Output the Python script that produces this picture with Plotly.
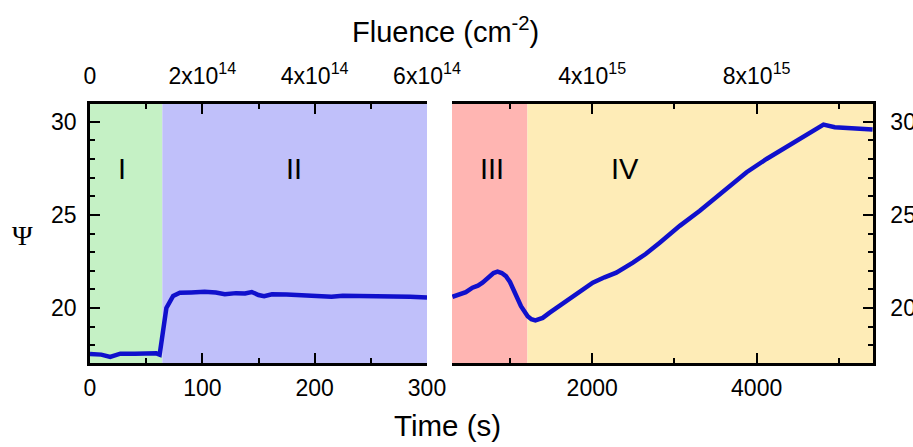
import plotly.graph_objects as go

# ---------------- data ----------------
left_time = [0, 10, 18, 27, 40, 50, 59, 62, 68, 74, 80, 90, 102, 112, 120, 130, 138, 144, 150, 155,
             162, 175, 190, 200, 215, 225, 240, 255, 270, 285, 300]
left_psi = [17.53, 17.5, 17.38, 17.55, 17.55, 17.57, 17.57, 17.5, 20.0, 20.65, 20.82, 20.84, 20.87, 20.83,
            20.74, 20.8, 20.78, 20.86, 20.7, 20.64, 20.74, 20.72, 20.68, 20.7, 20.6, 20.66, 20.66, 20.62,
            20.62, 20.6, 20.57]

right_time = [300, 380, 463, 544, 610, 666, 748, 800, 849, 900, 951, 1000, 1032, 1073, 1134, 1215, 1260,
              1309, 1350, 1398, 1479, 1600, 1723, 1860, 2007, 2150, 2293, 2495, 2650, 2821, 3065, 3309,
              3600, 3878, 4120, 4366, 4600, 4813, 4950, 5098, 5250, 5410]
right_psi = [20.60, 20.70, 20.85, 21.09, 21.2, 21.36, 21.71, 21.88, 21.95, 21.88, 21.71, 21.4, 21.09, 20.64,
             20.1, 19.56, 19.4, 19.34, 19.38, 19.47, 19.74, 20.1, 20.46, 20.9, 21.36, 21.65, 21.9, 22.44,
             22.9, 23.51, 24.41, 25.22, 26.25, 27.29, 28.0, 28.64, 29.25, 29.84, 29.7, 29.66, 29.62, 29.58]

fluence_per_second = 2e12

left_range = [0, 300]
right_range = [295, 5415]
y_range = [17.05, 30.95]

bottom_left_ticks = [0, 100, 200, 300]
bottom_left_minor = [50, 150, 250]
bottom_right_ticks = [2000, 4000]
bottom_right_minor = [1000, 3000, 5000]

top_left_ticks = [0, 2e14, 4e14, 6e14]
top_left_text = ["0", "2x10<sup>14</sup>", "4x10<sup>14</sup>", "6x10<sup>14</sup>"]
top_left_minor = [1e14, 3e14, 5e14]
top_right_ticks = [4e15, 8e15]
top_right_text = ["4x10<sup>15</sup>", "8x10<sup>15</sup>"]
top_right_minor = [2e15, 6e15, 1e16]

y_ticks = [20, 25, 30]

region_names = ["I", "II", "III", "IV"]
region_panel = ["x", "x", "x2", "x2"]
region_start = [0, 64.4, 295, 1212]
region_end = [64.4, 300, 1212, 5415]
region_colors = ["#c5f1c5", "#c0c0fa", "#ffb5b2", "#feecb7"]
label_time = [28.5, 182, 778, 2394]
label_psi = [27.45, 27.45, 27.45, 27.45]

# ---------------- figure ----------------
FONT = "Liberation Sans, Arial, sans-serif"
LINE = "#1010cc"

fig = go.Figure()
fig.add_trace(go.Scatter(x=left_time, y=left_psi, mode="lines", xaxis="x", yaxis="y",
                         line=dict(color=LINE, width=4.5), showlegend=False, hoverinfo="skip"))
fig.add_trace(go.Scatter(x=right_time, y=right_psi, mode="lines", xaxis="x2", yaxis="y2",
                         line=dict(color=LINE, width=4.5), showlegend=False, hoverinfo="skip"))
# invisible traces to carry top axes
fig.add_trace(go.Scatter(x=[v * fluence_per_second for v in left_range], y=y_range, mode="markers",
                         xaxis="x3", yaxis="y", marker=dict(opacity=0), showlegend=False, hoverinfo="skip"))
fig.add_trace(go.Scatter(x=[v * fluence_per_second for v in right_range], y=y_range, mode="markers",
                         xaxis="x4", yaxis="y2", marker=dict(opacity=0), showlegend=False, hoverinfo="skip"))

shapes = []
for p, x0, x1, c in zip(region_panel, region_start, region_end, region_colors):
    yref = "y domain" if p == "x" else "y2 domain"
    shapes.append(dict(type="rect", xref=p, yref=yref, x0=x0, x1=x1, y0=0, y1=1,
                       fillcolor=c, line=dict(width=0), layer="below"))

annotations = []
for name, p, tx, ty in zip(region_names, region_panel, label_time, label_psi):
    annotations.append(dict(text=name, x=tx, y=ty, xref=p, yref="y" if p == "x" else "y2",
                            xanchor="center", yanchor="middle",
                            showarrow=False, font=dict(family=FONT, size=29, color="black")))
annotations.append(dict(text="Fluence (cm<sup>-2</sup>)", x=445, y=30, xref="paper", yref="paper",
                        showarrow=False, font=dict(family=FONT, size=29, color="black")))
annotations.append(dict(text="Time (s)", x=447, y=425, xref="paper", yref="paper",
                        showarrow=False, font=dict(family=FONT, size=29.5, color="black")))
annotations.append(dict(text="Ψ", x=22, y=235, xref="paper", yref="paper",
                        showarrow=False, font=dict(family="Liberation Serif, Times New Roman, serif",
                                                    size=28, color="black")))

W, H = 913, 447
ML, MR, MT, MB = 90, 40, 104, 84
pw, ph = W - ML - MR, H - MT - MB
# convert pixel positions of the free annotations to paper coords
for a in annotations[-3:]:
    a["x"] = (a["x"] - ML) / pw
    a["y"] = 1 - (a["y"] - MT) / ph
    a["xanchor"] = "center"
    a["yanchor"] = "middle"

d_left = [0, (427 - ML) / pw]
d_right = [(452 - ML) / pw, 1]

tickfont = dict(family=FONT, size=23, color="black")
common = dict(ticks="inside", ticklen=10, tickwidth=2, tickcolor="black", showline=True,
              linecolor="black", linewidth=2.5, showgrid=False, zeroline=False, tickfont=tickfont,
              fixedrange=True, automargin=False)

fig.update_layout(
    width=W, height=H, margin=dict(l=ML, r=MR, t=MT, b=MB, autoexpand=False),
    paper_bgcolor="white", plot_bgcolor="rgba(0,0,0,0)",
    shapes=shapes, annotations=annotations,
    xaxis=dict(domain=d_left, anchor="y", range=left_range, tickmode="array",
               tickvals=bottom_left_ticks, ticklabelstandoff=3,
               minor=dict(tickmode="array", tickvals=bottom_left_minor, ticks="inside", ticklen=5,
                          tickwidth=2, tickcolor="black"), **common),
    xaxis2=dict(domain=d_right, anchor="y2", range=right_range, tickmode="array",
                tickvals=bottom_right_ticks, ticklabelstandoff=3,
                minor=dict(tickmode="array", tickvals=bottom_right_minor, ticks="inside", ticklen=5,
                           tickwidth=2, tickcolor="black"), **common),
    xaxis3=dict(domain=d_left, anchor="y", overlaying="x", side="top",
                range=[v * fluence_per_second for v in left_range], tickmode="array",
                tickvals=top_left_ticks, ticktext=top_left_text, ticklabelstandoff=8,
                minor=dict(tickmode="array", tickvals=top_left_minor, ticks="inside", ticklen=5,
                           tickwidth=2, tickcolor="black"), **common),
    xaxis4=dict(domain=d_right, anchor="y2", overlaying="x2", side="top",
                range=[v * fluence_per_second for v in right_range], tickmode="array",
                tickvals=top_right_ticks, ticktext=top_right_text, ticklabelstandoff=8,
                minor=dict(tickmode="array", tickvals=top_right_minor, ticks="inside", ticklen=5,
                           tickwidth=2, tickcolor="black"), **common),
    yaxis=dict(domain=[0, 1], anchor="x", range=y_range, side="left", tickmode="array",
               tickvals=y_ticks, ticklabelstandoff=6,
               minor=dict(dtick=1, ticks="inside", ticklen=5, tickwidth=2, tickcolor="black"), **common),
    yaxis2=dict(domain=[0, 1], anchor="x2", range=y_range, side="right", tickmode="array",
                tickvals=y_ticks, ticklabelstandoff=10,
                minor=dict(dtick=1, ticks="inside", ticklen=5, tickwidth=2, tickcolor="black"), **common),
)

fig.write_html("out.html")
